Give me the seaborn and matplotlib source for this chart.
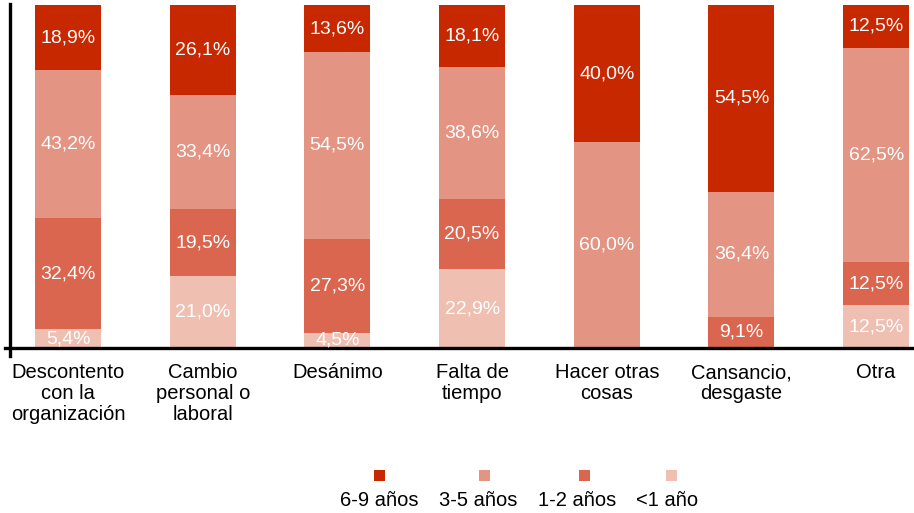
import matplotlib
matplotlib.use("Agg")
import matplotlib.pyplot as plt
from matplotlib.patches import Rectangle
import numpy as np
import pandas as pd
import seaborn as sns

# Reasons for leaving, split by years of participation (percent of each reason)
categories = [
    "Descontento\ncon la\norganización",
    "Cambio\npersonal o\nlaboral",
    "Desánimo",
    "Falta de\ntiempo",
    "Hacer otras\ncosas",
    "Cansancio,\ndesgaste",
    "Otra",
]
series_names = ["6-9 años", "3-5 años", "1-2 años", "<1 año"]
anios_6_9 = [18.9, 26.1, 13.6, 18.1, 40.0, 54.5, 12.5]
anios_3_5 = [43.2, 33.4, 54.5, 38.6, 60.0, 36.4, 62.5]
anios_1_2 = [32.4, 19.5, 27.3, 20.5, 0.0, 9.1, 12.5]
anios_menos_1 = [5.4, 21.0, 4.5, 22.9, 0.0, 0.0, 12.5]

colors = {
    "6-9 años": "#C82800",
    "3-5 años": "#E39483",
    "1-2 años": "#DB6650",
    "<1 año": "#EFBFB2",
}

sns.set_theme(style="white")
plt.rcParams["font.family"] = ["Liberation Sans", "DejaVu Sans"]

W, H = 914, 513
fig = plt.figure(figsize=(W / 100, H / 100), dpi=100)

def px(x, y):
    return x / W, 1 - y / H

ax_left, ax_top = px(10, 5)
ax_right, ax_bottom = px(914, 348)
ax = fig.add_axes([ax_left, ax_bottom, ax_right - ax_left, ax_top - ax_bottom])

# stacking order from the bottom up
stack = [
    ("<1 año", anios_menos_1),
    ("1-2 años", anios_1_2),
    ("3-5 años", anios_3_5),
    ("6-9 años", anios_6_9),
]
vals = np.array([v for _, v in stack])
cum = np.cumsum(vals, axis=0)
bottoms = cum - vals

df = pd.DataFrame({"cat": categories})
# draw cumulative totals from tallest to shortest so each layer shows its segment
for i in range(len(stack) - 1, -1, -1):
    name = stack[i][0]
    df["y"] = cum[i]
    sns.barplot(data=df, x="cat", y="y", color=colors[name], width=0.49,
                saturation=1, ax=ax, edgecolor="none", linewidth=0)

# value labels centered in each segment
for i, (name, v) in enumerate(stack):
    for j, val in enumerate(v):
        if val <= 0:
            continue
        ax.text(j, bottoms[i][j] + val / 2, f"{val:.1f}".replace(".", ",") + "%",
                ha="center", va="center", color="white", fontsize=14)

ax.set_xlim(-0.4306, 6.281)
ax.set_ylim(0, 100)
ax.set_xlabel("")
ax.set_ylabel("")
ax.set_yticks([])
ax.set_xticks(range(len(categories)))
ax.set_xticklabels(categories, fontsize=14.5, color="black", linespacing=1.12)
ax.tick_params(axis="x", length=0, pad=11)

for s in ["top", "right"]:
    ax.spines[s].set_visible(False)
for s in ["left", "bottom"]:
    ax.spines[s].set_visible(True)
    ax.spines[s].set_color("black")
    ax.spines[s].set_linewidth(2.4)
ax.spines["left"].set_bounds(-2.3, 100.3)
ax.spines["bottom"].set_bounds(-0.47, 6.281)

# legend: swatches above their labels
swatch_x = [379, 484, 584, 671]
label_x = [379, 478, 577, 667]
for name, sx, lx in zip(series_names, swatch_x, label_x):
    x0, y0 = px(sx - 5.5, 481)
    fig.add_artist(Rectangle((x0, y0), 11 / W, 11 / H, transform=fig.transFigure,
                             facecolor=colors[name], edgecolor="none"))
    tx, ty = px(lx, 500)
    fig.text(tx, ty, name, ha="center", va="center", fontsize=14.5, color="black")

fig.savefig("out.png", dpi=100)
